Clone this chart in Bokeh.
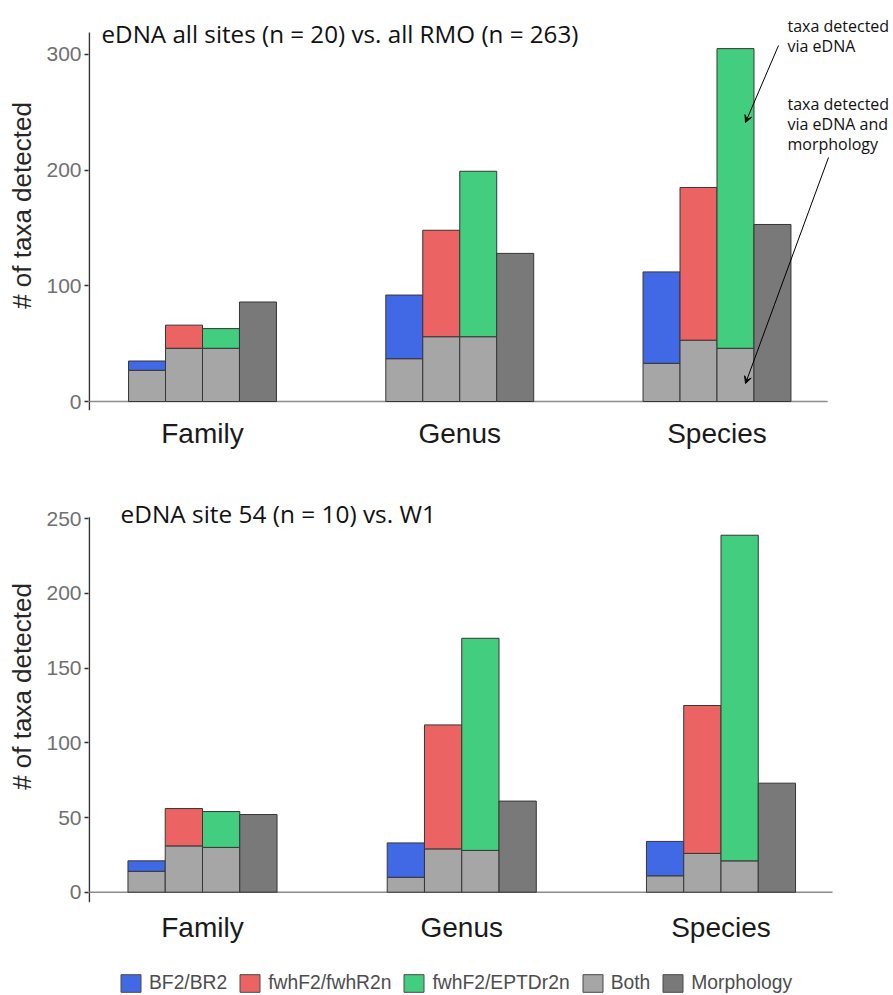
from bokeh.plotting import figure
from bokeh.models import Range1d, FixedTicker, Label, Arrow, VeeHead, Legend, LegendItem
from bokeh.layouts import column
from bokeh.embed import file_html
from bokeh.resources import INLINE

# ---------------- data ----------------
levels = ["Family", "Genus", "Species"]
primers = ["BF2/BR2", "fwhF2/fwhR2n", "fwhF2/EPTDr2n"]

# top panel: eDNA all sites vs all RMO
top_total_bf2 = [35, 92, 112]
top_both_bf2 = [27, 37, 33]
top_total_r2n = [66, 148, 185]
top_both_r2n = [46, 56, 53]
top_total_ept = [63, 199, 305]
top_both_ept = [46, 56, 46]
top_morph = [86, 128, 153]

# bottom panel: eDNA site 54 vs W1
bot_total_bf2 = [21, 33, 34]
bot_both_bf2 = [14, 10, 11]
bot_total_r2n = [56, 112, 125]
bot_both_r2n = [31, 29, 26]
bot_total_ept = [54, 170, 239]
bot_both_ept = [30, 28, 21]
bot_morph = [52, 61, 73]

top_ticks = [0, 100, 200, 300]
bot_ticks = [0, 50, 100, 150, 200, 250]

# ---------------- style ----------------
COLORS = ["#4169E6", "#EC6363", "#42CD7F"]
BOTH_COLOR = "#A6A6A6"
MORPH_COLOR = "#797979"
EDGE = "#363636"
BAR_W = 0.14375
OFFSETS = [-1.5 * BAR_W, -0.5 * BAR_W, 0.5 * BAR_W, 1.5 * BAR_W]
PANEL_RIGHT = 2.43
W = 893
LEFT = 88  # frame left edge (shared by the stacked plots)


def make_panel(totals, boths, morph, ticks, height, x_range, y_range, axis_top,
               border_bottom, px_per_x, label_standoff):
    p = figure(width=W, height=height, output_backend="svg", toolbar_location=None,
               x_range=Range1d(*x_range), y_range=Range1d(*y_range),
               min_border_left=LEFT, min_border_right=0,
               min_border_top=0, min_border_bottom=border_bottom)
    p.outline_line_color = None
    p.xgrid.visible = False
    p.ygrid.visible = False
    p.background_fill_color = "white"

    # y axis line (drawn so that it stops at the top of the panel)
    ax_x = x_range[0] + 0.8 / px_per_x
    p.segment(x0=[ax_x], y0=[y_range[0]], x1=[ax_x], y1=[axis_top],
              line_color="#333333", line_width=1.6)
    # zero baseline of the panel
    p.segment(x0=[ax_x], y0=[0], x1=[PANEL_RIGHT], y1=[0],
              line_color="#8c8c8c", line_width=1.6)

    xs = list(range(len(levels)))
    color_renderers = []
    for i, (tot, bo) in enumerate(zip(totals, boths)):
        x = [xi + OFFSETS[i] for xi in xs]
        p.vbar(x=x, width=BAR_W, bottom=0, top=bo, fill_color=BOTH_COLOR,
               line_color=EDGE, line_width=1)
        r = p.vbar(x=x, width=BAR_W, bottom=bo, top=tot, fill_color=COLORS[i],
                   line_color=EDGE, line_width=1)
        color_renderers.append(r)
    xm = [xi + OFFSETS[3] for xi in xs]
    p.vbar(x=xm, width=BAR_W, bottom=0, top=morph, fill_color=MORPH_COLOR,
           line_color=EDGE, line_width=1)

    # y axis
    ya = p.yaxis[0]
    ya.ticker = FixedTicker(ticks=ticks)
    ya.axis_label = "# of taxa detected"
    ya.axis_label_text_font = "Liberation Sans"
    ya.axis_label_text_font_style = "normal"
    ya.axis_label_text_font_size = "26px"
    ya.axis_label_text_color = "#262626"
    ya.axis_label_standoff = 6
    ya.major_label_text_font = "Liberation Sans"
    ya.major_label_text_font_size = "21px"
    ya.major_label_text_color = "#707070"
    ya.major_label_standoff = 3
    ya.axis_line_color = None
    ya.major_tick_line_color = "#333333"
    ya.major_tick_line_width = 1.4
    ya.major_tick_out = 4
    ya.major_tick_in = 0
    ya.minor_tick_line_color = None

    # x axis (category labels)
    xa = p.xaxis[0]
    xa.ticker = FixedTicker(ticks=xs)
    xa.major_label_overrides = {i: lv for i, lv in enumerate(levels)}
    xa.major_label_text_font = "Liberation Sans"
    xa.major_label_text_font_size = "28px"
    xa.major_label_text_color = "#1a1a1a"
    xa.major_label_standoff = label_standoff
    xa.axis_line_color = None
    xa.major_tick_line_color = None
    xa.minor_tick_line_color = None
    return p


# ---- top panel (page y 0..470); px per unit: x 257.25, y 1.157 ----
TX = 257.25
TY = 1.157
top_xr = ((LEFT - 202) / TX, (W - 202) / TX)
top_yr = (-(410 - 401) / TY, 401 / TY)
p1 = make_panel(
    [top_total_bf2, top_total_r2n, top_total_ept],
    [top_both_bf2, top_both_r2n, top_both_ept],
    top_morph, top_ticks, 470, top_xr, top_yr, (401 - 32) / TY, 60, TX, 1)


def tx(px):
    return (px - 202) / TX


def ty(py):
    return (401 - py) / TY


p1.add_layout(Label(x=tx(101), y=ty(32.5), text="eDNA all sites (n = 20) vs. all RMO (n = 263)",
                    text_font="Open Sans", text_font_size="24.2px", text_color="#111111",
                    text_baseline="alphabetic", text_align="left"))

for txt, py in [("taxa detected", 25), ("via eDNA", 45),
                ("taxa detected", 103), ("via eDNA and", 123), ("morphology", 143)]:
    p1.add_layout(Label(x=tx(787), y=ty(py), text=txt, text_font="Open Sans",
                        text_font_size="16px", text_color="#111111",
                        text_baseline="alphabetic", text_align="left"))

p1.add_layout(Arrow(x_start=tx(778), y_start=ty(45), x_end=tx(745), y_end=ty(122),
                    line_color="black", line_width=1,
                    end=VeeHead(size=7, line_color="black", fill_color="black", line_width=1)))
p1.add_layout(Arrow(x_start=tx(828), y_start=ty(157), x_end=tx(745), y_end=ty(383),
                    line_color="black", line_width=1,
                    end=VeeHead(size=7, line_color="black", fill_color="black", line_width=1)))

# ---- bottom panel (page y 470..960); px per unit: x 259.25, y 1.4936 ----
BX = 259.25
BY = 1.4936
B0 = 891.7 - 470  # zero line, in figure pixels from the figure top
bot_xr = ((LEFT - 202) / BX, (W - 202) / BX)
bot_yr = (-(432 - B0) / BY, B0 / BY)
p2 = make_panel(
    [bot_total_bf2, bot_total_r2n, bot_total_ept],
    [bot_both_bf2, bot_both_r2n, bot_both_ept],
    bot_morph, bot_ticks, 490, bot_xr, bot_yr, 251.0, 58, BX, 3)

p2.add_layout(Label(x=(120 - 202) / BX, y=(891.7 - 512.5) / BY, text="eDNA site 54 (n = 10) vs. W1",
                    text_font="Open Sans", text_font_size="24.4px", text_color="#111111",
                    text_baseline="alphabetic", text_align="left"))

# ---- legend strip (page y 960..995) ----
p3 = figure(width=W, height=35, output_backend="svg", toolbar_location=None,
            x_range=Range1d(0, 1), y_range=Range1d(0, 1),
            x_axis_location=None, y_axis_location=None,
            min_border_left=0, min_border_right=0, min_border_top=0, min_border_bottom=0)
p3.outline_line_color = None
p3.xgrid.visible = False
p3.ygrid.visible = False
leg_colors = COLORS + [BOTH_COLOR, MORPH_COLOR]
leg_labels = primers + ["Both", "Morphology"]
items = []
for lab, col in zip(leg_labels, leg_colors):
    # placeholder glyph lying outside the strip's visible range, only used for the key
    r = p3.vbar(x=[5], top=[1], width=0.1, fill_color=col, line_color="#4a4a4a", line_width=1)
    items.append(LegendItem(label=lab, renderers=[r]))
legend = Legend(items=items, orientation="horizontal", location=(118 - LEFT, 1),
                glyph_width=25, glyph_height=22, label_standoff=6, spacing=10,
                padding=0, margin=0, border_line_color=None, background_fill_alpha=0,
                label_text_font="Liberation Sans", label_text_font_size="19.3px",
                label_text_color="#4d4d4d", label_height=22)
p3.add_layout(legend, "center")

layout = column(p1, p2, p3, spacing=0)
open("out.html", "w").write(file_html(layout, INLINE))
